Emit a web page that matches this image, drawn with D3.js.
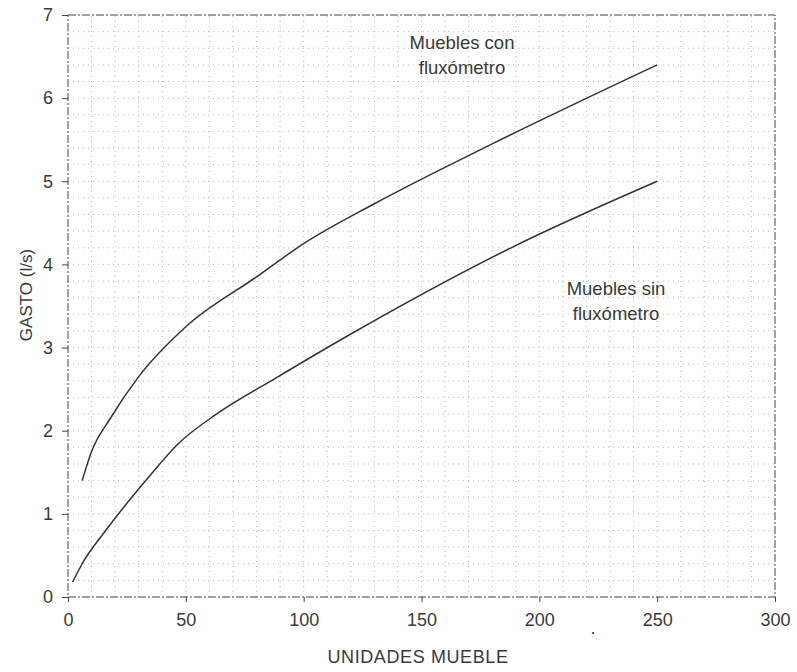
<!DOCTYPE html>
<html>
<head>
<meta charset="utf-8">
<script src="https://cdn.jsdelivr.net/npm/d3@7"></script>
<style>
  html, body { margin: 0; padding: 0; background: #fff; }
  svg text { font-family: "Liberation Sans", Arial, sans-serif; fill: #3a3a3a; }
</style>
</head>
<body>
<svg id="chart" width="797" height="672"></svg>
<script>
// Gasto probable vs. unidades mueble
const unidadesCon = [6, 10, 18, 30, 50, 80, 100, 130, 180, 250];
const gastoCon    = [1.4, 1.75, 2.15, 2.65, 3.25, 3.85, 4.25, 4.73, 5.45, 6.4];

const unidadesSin = [2, 6, 16, 33, 47, 63, 88, 118, 188, 250];
const gastoSin    = [0.18, 0.4, 0.8, 1.4, 1.85, 2.2, 2.63, 3.13, 4.2, 5.0];

const xTicks = [0, 50, 100, 150, 200, 250, 300];
const yTicks = [0, 1, 2, 3, 4, 5, 6, 7];

const labelCon = ["Muebles con", "fluxómetro"];
const labelSin = ["Muebles sin", "fluxómetro"];

const svg = d3.select("#chart");
const x = d3.scaleLinear().domain([0, 300]).range([68, 775]);
const y = d3.scaleLinear().domain([0, 7]).range([597, 15]);

// fine grid: every 10 units across, every 0.2 l/s up
const grid = svg.append("g").attr("stroke", "#a8a8a8").attr("stroke-width", 0.8)
  .attr("stroke-dasharray", "1,4");
grid.selectAll("line.v").data(d3.range(10, 300, 10)).join("line")
  .attr("x1", d => x(d)).attr("x2", d => x(d))
  .attr("y1", y(0)).attr("y2", y(7));
grid.selectAll("line.h").data(d3.range(1, 35).map(i => i * 0.2)).join("line")
  .attr("x1", x(0)).attr("x2", x(300))
  .attr("y1", d => y(d)).attr("y2", d => y(d));

// frame
svg.append("rect")
  .attr("x", x(0)).attr("y", y(7))
  .attr("width", x(300) - x(0)).attr("height", y(0) - y(7))
  .attr("fill", "none").attr("stroke", "#444").attr("stroke-width", 1)
  .attr("stroke-dasharray", "8,2,2,2");

// axes
const xAxis = d3.axisBottom(x).tickValues(xTicks).tickFormat(d3.format("d"))
  .tickSize(5).tickPadding(11);
const yAxis = d3.axisLeft(y).tickValues(yTicks).tickFormat(d3.format("d"))
  .tickSize(6).tickPadding(9);

const gx = svg.append("g").attr("transform", `translate(0,${y(0)})`).call(xAxis);
const gy = svg.append("g").attr("transform", `translate(${x(0)},0)`).call(yAxis);
[gx, gy].forEach(g => {
  g.select(".domain").remove();
  g.selectAll(".tick line").attr("stroke", "#444");
  g.selectAll(".tick text").attr("font-size", 18).attr("fill", "#3a3a3a")
    .style("font-family", "'Liberation Sans', Arial, sans-serif");
});

// axis titles
svg.append("text")
  .attr("x", 418).attr("y", 663)
  .attr("text-anchor", "middle").attr("font-size", 18)
  .attr("letter-spacing", 0.6)
  .text("UNIDADES MUEBLE");

svg.append("text")
  .attr("transform", `translate(32,${(y(0) + y(7)) / 2 - 11}) rotate(-90)`)
  .attr("text-anchor", "middle").attr("font-size", 17)
  .text("GASTO (l/s)");

svg.append("text").attr("x", 593).attr("y", 634).attr("font-size", 18)
  .attr("text-anchor", "middle").text(".");

// curves
const line = d3.line().x(d => x(d[0])).y(d => y(d[1])).curve(d3.curveMonotoneX);
const series = [
  d3.zip(unidadesCon, gastoCon),
  d3.zip(unidadesSin, gastoSin)
];
svg.append("g").selectAll("path").data(series).join("path")
  .attr("d", line)
  .attr("fill", "none").attr("stroke", "#333").attr("stroke-width", 1.5);

// series labels
function label(lines, cx, cy) {
  const t = svg.append("text").attr("text-anchor", "middle").attr("font-size", 18.5);
  lines.forEach((s, i) => t.append("tspan").attr("x", cx).attr("y", cy + i * 25).text(s));
}
label(labelCon, 462, 49);
label(labelSin, 616, 295);
</script>
</body>
</html>
